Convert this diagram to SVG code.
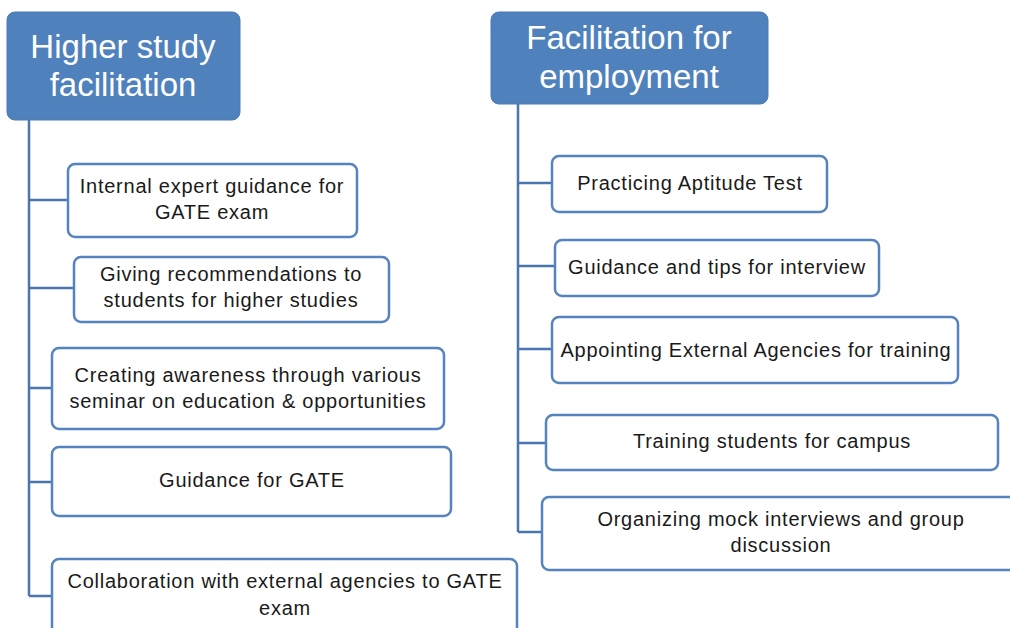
<svg xmlns="http://www.w3.org/2000/svg" width="1010" height="628" viewBox="0 0 1010 628">
<style>
.hdr{fill:#4F81BD;stroke:#4A7AB5;stroke-width:1}
.ht{font-family:"Liberation Sans",Arial,sans-serif;font-size:33px;fill:#fff;text-anchor:middle}
.box{fill:#fff;stroke:#5583BE;stroke-width:2.5}
.t{font-family:"Liberation Sans",Arial,sans-serif;font-size:20px;letter-spacing:0.75px;fill:#1a1a1a;text-anchor:middle}
.ln{fill:none;stroke:#4A75AE;stroke-width:2.5}
</style>
<rect width="1010" height="628" fill="#fff"/>
<g id="connectors">
<path class="ln" d="M29 120 V596 M29 200 H68 M29 288 H74 M29 388 H52 M29 482 H52 M29 596 H52"/>
<path class="ln" d="M518 104 V532 M518 183 H552 M518 266 H555 M518 349 H552 M518 443 H546 M518 532 H542"/>
</g>
<g id="h1"><rect class="hdr" x="7" y="12" width="233" height="108" rx="8"/><text class="ht" x="123" y="58">Higher study</text><text class="ht" x="123" y="96">facilitation</text></g>
<g id="h2"><rect class="hdr" x="491" y="12" width="277" height="92" rx="8"/><text class="ht" x="629" y="49">Facilitation for</text><text class="ht" x="629" y="88">employment</text></g>
<g id="l1"><rect class="box" x="68" y="164" width="289" height="73" rx="7"/><text class="t" x="212" y="193">Internal expert guidance for</text><text class="t" x="212" y="219">GATE exam</text></g>
<g id="l2"><rect class="box" x="74" y="257" width="315" height="65" rx="7"/><text class="t" x="231" y="281">Giving recommendations to</text><text class="t" x="231" y="307">students for higher studies</text></g>
<g id="l3"><rect class="box" x="52" y="348" width="392" height="81" rx="7"/><text class="t" x="248" y="382">Creating awareness through various</text><text class="t" x="248" y="408">seminar on education &amp; opportunities</text></g>
<g id="l4"><rect class="box" x="52" y="447" width="399" height="69" rx="7"/><text class="t" x="252" y="487">Guidance for GATE</text></g>
<g id="l5"><rect class="box" x="52" y="559" width="465" height="90" rx="7"/><text class="t" x="285" y="588">Collaboration with external agencies to GATE</text><text class="t" x="285" y="615">exam</text></g>
<g id="r1"><rect class="box" x="552" y="156" width="275" height="56" rx="7"/><text class="t" x="690" y="190">Practicing Aptitude Test</text></g>
<g id="r2"><rect class="box" x="555" y="240" width="324" height="56" rx="7"/><text class="t" x="717" y="274">Guidance and tips for interview</text></g>
<g id="r3"><rect class="box" x="552" y="317" width="406" height="66" rx="7"/><text class="t" x="756" y="357">Appointing External Agencies for training</text></g>
<g id="r4"><rect class="box" x="546" y="415" width="452" height="55" rx="7"/><text class="t" x="772" y="448">Training students for campus</text></g>
<g id="r5"><rect class="box" x="542" y="497" width="480" height="73" rx="7"/><text class="t" x="781" y="526">Organizing mock interviews and group</text><text class="t" x="781" y="552">discussion</text></g>
</svg>
